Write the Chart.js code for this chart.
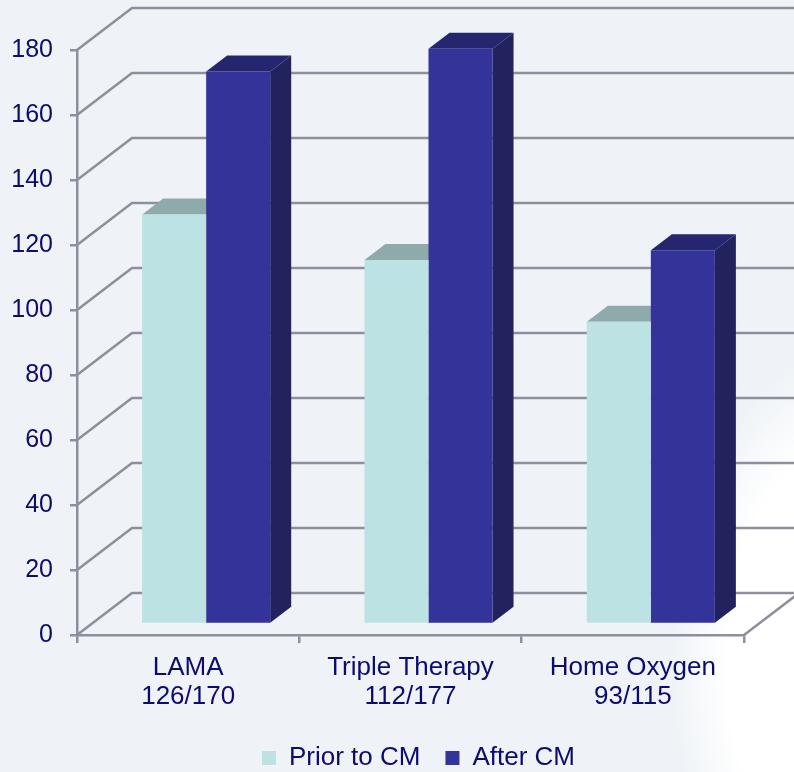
<!DOCTYPE html>
<html>
<head>
<meta charset="utf-8">
<script src="https://cdn.jsdelivr.net/npm/chart.js@4/dist/chart.umd.min.js"></script>
<style>
  html, body { margin: 0; padding: 0; background: #eff3f7; }
  canvas { display: block; }
</style>
</head>
<body>
<canvas id="chart" width="794" height="772"></canvas>
<script>
// ---- data ----
const categories = ['LAMA', 'Triple Therapy', 'Home Oxygen'];
const priorToCM = [126, 112, 93];
const afterCM = [170, 177, 115];
const yTickValues = [0, 20, 40, 60, 80, 100, 120, 140, 160, 180];
const seriesNames = ['Prior to CM', 'After CM'];

// ---- styling ----
const FONT = "'Liberation Sans', Arial, Helvetica, sans-serif";
const TEXT = '#0c0c6c';
const GRID = '#8e8e9c';
const BG = '#eff3f7';
const WALL = { dx: 55, dy: -42 };      // back wall offset from the front plane
const BAR_SHIFT = { dx: 18, dy: -11 }; // bars sit a little behind the front plane
const BAR_DEPTH = { dx: 21, dy: -16 }; // extrusion of each bar
const faces = [
  { front: '#bce2e4', top: '#8eaaab', side: '#7fa0a2' },
  { front: '#333399', top: '#262670', side: '#22225e' }
];
const LEGEND_X = 262;   // left edge of first legend swatch
const LEGEND_MID = 758; // vertical centre of legend text

// multi-line category labels: name + "prior/after"
const xLabels = categories.map((c, i) => [c, priorToCM[i] + '/' + afterCM[i]]);

const scene3d = {
  id: 'scene3d',
  beforeDraw(chart) {
    const { ctx, width, height } = chart;
    ctx.save();
    ctx.fillStyle = BG;
    ctx.fillRect(0, 0, width, height);
    // soft white glow in the lower-right corner (elliptical)
    ctx.translate(870, 660);
    ctx.scale(200, 320);
    const g = ctx.createRadialGradient(0, 0, 0, 0, 0, 1);
    g.addColorStop(0, 'rgba(255,255,255,1)');
    g.addColorStop(0.72, 'rgba(255,255,255,1)');
    g.addColorStop(1, 'rgba(255,255,255,0)');
    ctx.fillStyle = g;
    ctx.beginPath();
    ctx.arc(0, 0, 1, 0, Math.PI * 2);
    ctx.fill();
    ctx.restore();
  },
  afterLayout(chart) {
    const lg = chart.legend;
    if (!lg || !lg.lineWidths) return;
    const p = lg.options.labels.padding;
    const w = lg.lineWidths[0];
    const h = lg.height;
    lg.left = LEGEND_X - p;
    lg.right = LEGEND_X + w;
    lg.width = lg.right - lg.left;
    lg.top = LEGEND_MID - 13 - p;
    lg.bottom = lg.top + h;
  },
  beforeDatasetsDraw(chart) {
    const { ctx, chartArea: a, scales } = chart;
    const ys = scales.y;
    // back wall grid and floor edges
    ctx.save();
    ctx.strokeStyle = GRID;
    ctx.lineWidth = 2.5;
    ys.ticks.forEach(t => {
      const py = ys.getPixelForValue(t.value);
      ctx.beginPath();
      ctx.moveTo(a.left, py);
      ctx.lineTo(a.left + WALL.dx, py + WALL.dy);
      ctx.lineTo(a.right + WALL.dx + 10, py + WALL.dy);
      ctx.stroke();
    });
    ctx.beginPath();
    ctx.moveTo(a.right, a.bottom);
    ctx.lineTo(a.right + WALL.dx, a.bottom + WALL.dy);
    ctx.stroke();
    ctx.restore();

    // bars are drawn shifted back; extrusions first, fronts drawn by Chart.js after
    ctx.save();
    ctx.translate(BAR_SHIFT.dx, BAR_SHIFT.dy);
    chart.data.datasets.forEach((ds, i) => {
      const meta = chart.getDatasetMeta(i);
      const f = faces[i];
      meta.data.forEach(bar => {
        const { x, y, base, width } = bar.getProps(['x', 'y', 'base', 'width'], true);
        const l = x - width / 2, r = x + width / 2;
        ctx.fillStyle = f.side;
        ctx.beginPath();
        ctx.moveTo(r, y);
        ctx.lineTo(r + BAR_DEPTH.dx, y + BAR_DEPTH.dy);
        ctx.lineTo(r + BAR_DEPTH.dx, base + BAR_DEPTH.dy);
        ctx.lineTo(r, base);
        ctx.closePath();
        ctx.fill();
        ctx.fillStyle = f.top;
        ctx.beginPath();
        ctx.moveTo(l, y);
        ctx.lineTo(l + BAR_DEPTH.dx, y + BAR_DEPTH.dy);
        ctx.lineTo(r + BAR_DEPTH.dx, y + BAR_DEPTH.dy);
        ctx.lineTo(r, y);
        ctx.closePath();
        ctx.fill();
      });
    });
  },
  afterDatasetsDraw(chart) {
    chart.ctx.restore();
  }
};

new Chart(document.getElementById('chart'), {
  type: 'bar',
  data: {
    labels: xLabels,
    datasets: [
      { label: seriesNames[0], data: priorToCM, backgroundColor: faces[0].front, borderWidth: 0, clip: false },
      { label: seriesNames[1], data: afterCM, backgroundColor: faces[1].front, borderWidth: 0, clip: false }
    ]
  },
  options: {
    responsive: false,
    animation: false,
    events: [],
    datasets: { bar: { barPercentage: 1, categoryPercentage: 0.576 } },
    layout: { padding: { top: 50, right: 50, left: 0, bottom: 0 } },
    plugins: {
      tooltip: { enabled: false },
      legend: {
        position: 'bottom',
        labels: {
          boxWidth: 14, boxHeight: 14, padding: 25,
          color: TEXT,
          font: { family: FONT, size: 26 }
        }
      }
    },
    scales: {
      x: {
        afterFit(s) { s.height = 76; },
        border: { display: true, color: GRID, width: 2.5 },
        grid: { drawOnChartArea: false, drawTicks: true, tickLength: 8, color: GRID, lineWidth: 2.5, offset: true },
        ticks: { color: TEXT, padding: 10, maxRotation: 0, font: { family: FONT, size: 26, lineHeight: 1.12 } }
      },
      y: {
        min: 0, max: 180,
        afterFit(s) { s.width = 77; },
        afterBuildTicks(s) { s.ticks = yTickValues.map(v => ({ value: v })); },
        border: { display: true, color: GRID, width: 2.5 },
        grid: { drawOnChartArea: false, drawTicks: true, tickLength: 7, color: GRID, lineWidth: 2.5 },
        ticks: { color: TEXT, padding: 17, font: { family: FONT, size: 25 } }
      }
    }
  },
  plugins: [scene3d]
});
</script>
</body>
</html>
